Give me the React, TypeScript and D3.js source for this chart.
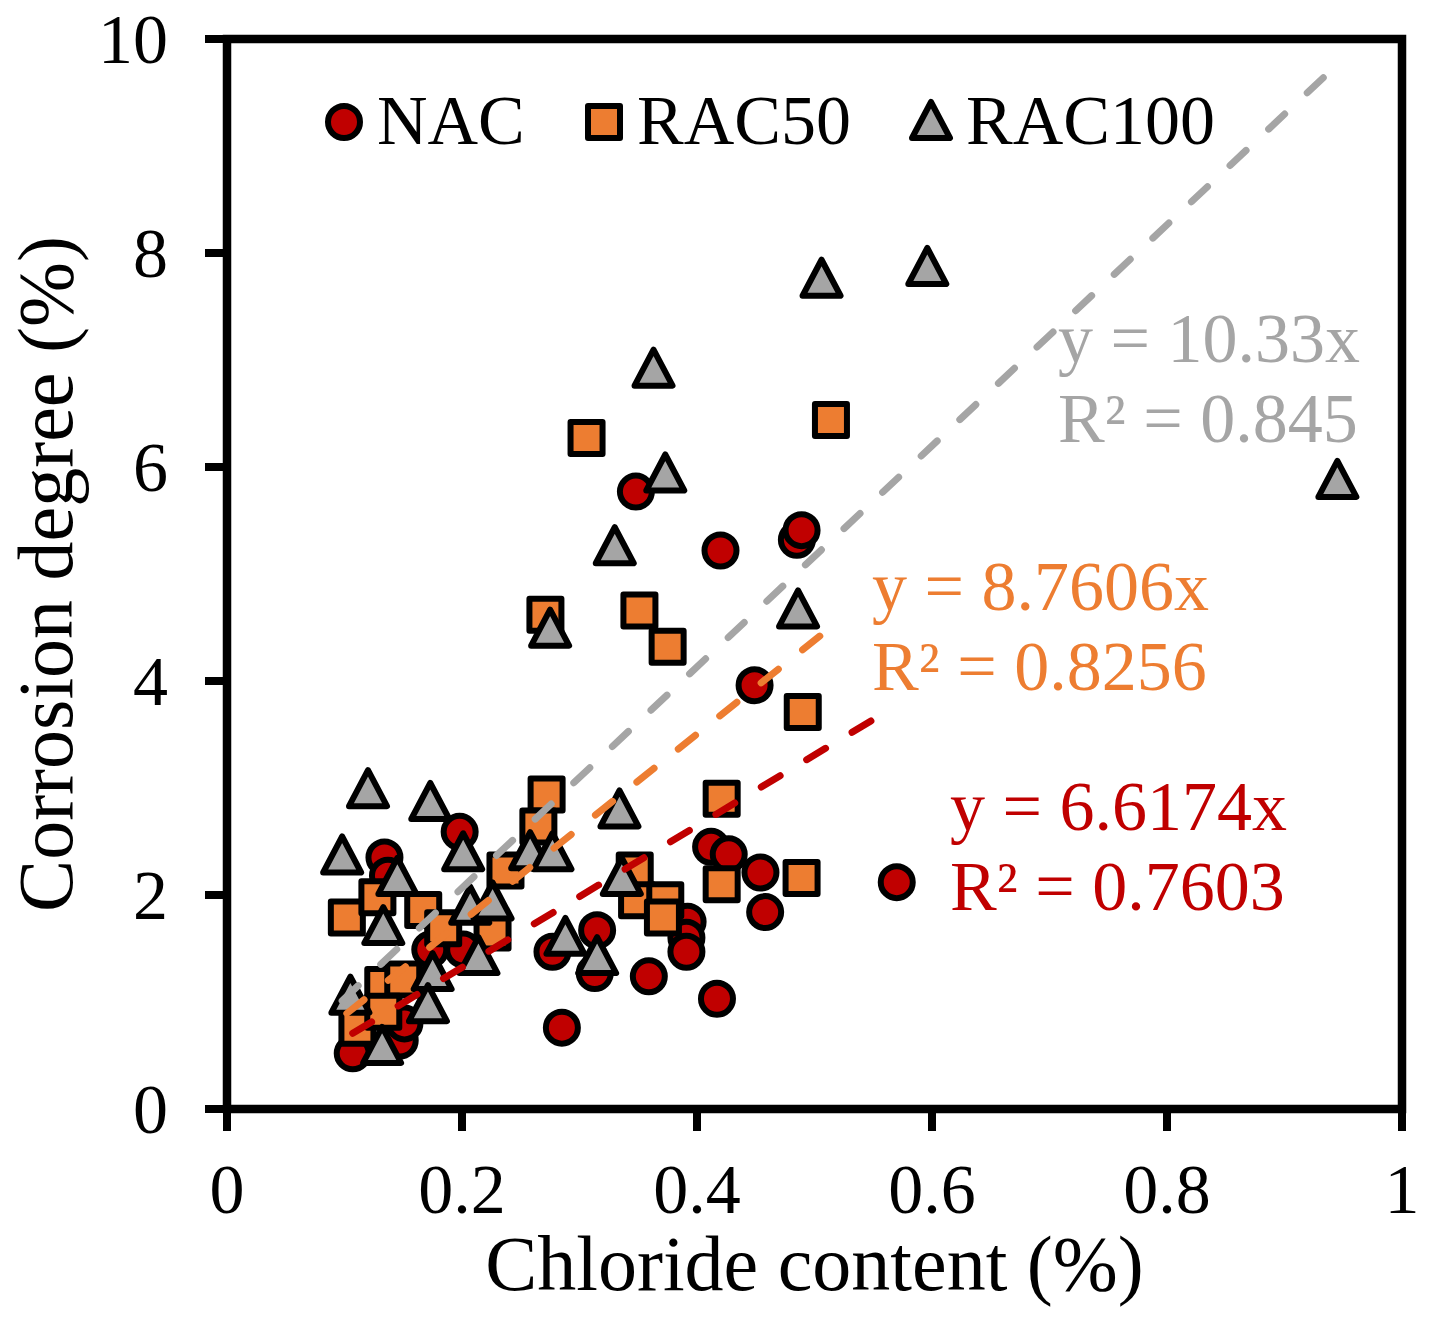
import React from 'react';
import * as d3 from 'd3';

// Chloride content (%) vs corrosion degree (%)
const nacX = [0.348, 0.420, 0.485, 0.489, 0.449, 0.570, 0.412, 0.427, 0.454, 0.458, 0.392, 0.391, 0.391, 0.315, 0.313, 0.359, 0.417, 0.285, 0.277, 0.198, 0.134, 0.137, 0.173, 0.201, 0.107, 0.147, 0.151];
const nacY = [5.77, 5.22, 5.32, 5.41, 3.96, 2.12, 2.45, 2.38, 2.21, 1.84, 1.75, 1.60, 1.47, 1.67, 1.27, 1.24, 1.03, 0.76, 1.47, 2.59, 2.35, 2.18, 1.49, 1.49, 0.52, 0.64, 0.80];

const rac50X = [0.306, 0.514, 0.271, 0.351, 0.375, 0.490, 0.272, 0.265, 0.421, 0.421, 0.489, 0.347, 0.349, 0.373, 0.371, 0.102, 0.128, 0.167, 0.184, 0.237, 0.226, 0.133, 0.150, 0.111, 0.133];
const rac50Y = [6.27, 6.44, 4.62, 4.66, 4.32, 3.71, 2.94, 2.64, 2.90, 2.10, 2.16, 2.23, 1.95, 1.95, 1.79, 1.79, 1.98, 1.86, 1.69, 2.23, 1.65, 1.16, 1.21, 0.76, 0.91];

const rac100X = [0.596, 0.506, 0.363, 0.373, 0.330, 0.275, 0.486, 0.945, 0.120, 0.173, 0.098, 0.201, 0.334, 0.258, 0.277, 0.336, 0.145, 0.207, 0.226, 0.133, 0.288, 0.315, 0.214, 0.175, 0.171, 0.105, 0.132];
const rac100Y = [7.86, 7.75, 6.91, 5.93, 5.25, 4.48, 4.66, 5.87, 2.98, 2.86, 2.36, 2.39, 2.79, 2.40, 2.39, 2.16, 2.16, 1.89, 1.93, 1.70, 1.60, 1.42, 1.42, 1.27, 0.97, 1.05, 0.58];

const seriesNames = ['NAC', 'RAC50', 'RAC100'];
const slopes = [6.6174, 8.7606, 10.33];
const eqLabels = ['y = 6.6174x', 'y = 8.7606x', 'y = 10.33x'];
const r2Labels = ['R² = 0.7603', 'R² = 0.8256', 'R² = 0.845'];

const xTicks = [0, 0.2, 0.4, 0.6, 0.8, 1];
const yTicks = [0, 2, 4, 6, 8, 10];

const W = 1429;
const H = 1324;
const left = 227, right = 1402, top = 39, bottom = 1109;
const FONT = '"Liberation Serif", "Times New Roman", serif';
const colors = ['#C00000', '#ED7D31', '#A5A5A5'];

const x = d3.scaleLinear().domain([0, 1]).range([left, right]);
const y = d3.scaleLinear().domain([0, 10]).range([bottom, top]);

const triPath = 'M0,-20L19,16L-19,16Z';

function Marker({ kind, cx, cy }: { kind: number; cx: number; cy: number }) {
  const common = { stroke: '#000', strokeWidth: 6, strokeLinejoin: 'round' as const };
  if (kind === 0) return <circle cx={cx} cy={cy} r={16} fill={colors[0]} {...common} />;
  if (kind === 1) return <rect x={cx - 16} y={cy - 16} width={32} height={32} fill={colors[1]} {...common} />;
  return <path d={triPath} transform={`translate(${cx},${cy})`} fill={colors[2]} {...common} />;
}

export default function App() {
  const series = [
    nacX.map((v, i) => [v, nacY[i]]),
    rac50X.map((v, i) => [v, rac50Y[i]]),
    rac100X.map((v, i) => [v, rac100Y[i]]),
  ];

  // where the trendline labels sit
  const labelPos = [
    { x: 950, y1: 830, y2: 910 },
    { x: 872, y1: 610, y2: 690 },
    { x: 1058, y1: 362, y2: 442 },
  ];

  const legendPos = [
    { mx: 344, tx: 377 },
    { mx: 604, tx: 637 },
    { mx: 931, tx: 966 },
  ];

  return (
    <svg width={W} height={H} style={{ position: 'absolute', left: 0, top: 0, background: '#fff' }} fontFamily={FONT}>
      <rect width={W} height={H} fill="#fff" />

      {/* ticks */}
      {yTicks.map((t) => (
        <g key={'y' + t}>
          <line x1={left - 22} x2={left} y1={y(t)} y2={y(t)} stroke="#000" strokeWidth={8} />
          <text x={168} y={y(t)} dy="0.34em" textAnchor="end" fontSize={70}>{t}</text>
        </g>
      ))}
      {xTicks.map((t) => (
        <g key={'x' + t}>
          <line x1={x(t)} x2={x(t)} y1={bottom} y2={bottom + 22} stroke="#000" strokeWidth={8} />
          <text x={x(t)} y={1213} textAnchor="middle" fontSize={70}>{t}</text>
        </g>
      ))}

      {/* markers */}
      {series.map((pts, k) => (
        <g key={'s' + k}>
          {pts.map((p, i) => (
            <Marker key={i} kind={k} cx={x(p[0])} cy={y(p[1])} />
          ))}
        </g>
      ))}

      {/* trendlines through origin */}
      {series.map((pts, k) => {
        const [x0, x1] = d3.extent(pts, (p) => p[0]) as [number, number];
        return (
          <line
            key={'t' + k}
            x1={x(x0)} y1={y(slopes[k] * x0)}
            x2={x(x1)} y2={y(slopes[k] * x1)}
            stroke={colors[k]} strokeWidth={7} strokeLinecap="round" strokeDasharray="22 31"
          />
        );
      })}

      {/* trendline labels */}
      {labelPos.map((p, k) => (
        <g key={'l' + k} fill={colors[k]} fontSize={70}>
          <text x={p.x} y={p.y1}>{eqLabels[k]}</text>
          <text x={p.x} y={p.y2}>{r2Labels[k]}</text>
        </g>
      ))}

      {/* legend */}
      {legendPos.map((p, k) => (
        <g key={'g' + k}>
          <Marker kind={k} cx={p.mx} cy={122} />
          <text x={p.tx} y={144} fontSize={70}>{seriesNames[k]}</text>
        </g>
      ))}

      {/* plot frame */}
      <rect x={left} y={top} width={right - left} height={bottom - top} fill="none" stroke="#000" strokeWidth={8.5} />

      {/* axis titles */}
      <text x={(left + right) / 2} y={1290} textAnchor="middle" fontSize={78}>Chloride content (%)</text>
      <text transform={`translate(72,${(top + bottom) / 2}) rotate(-90)`} textAnchor="middle" fontSize={78}>Corrosion degree (%)</text>
    </svg>
  );
}
